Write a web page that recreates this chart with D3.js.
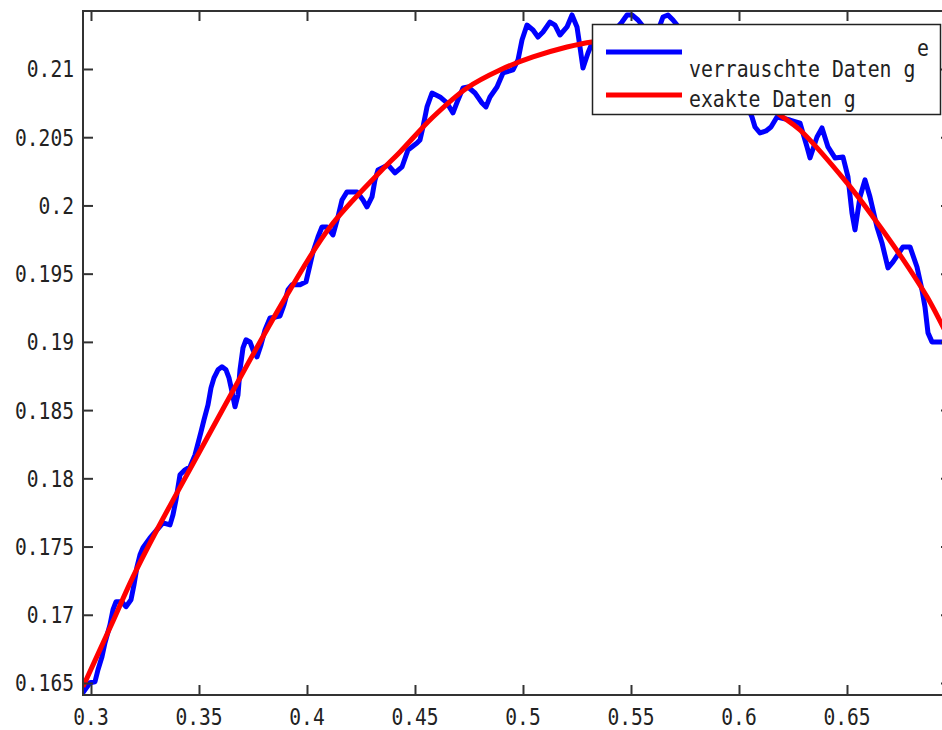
<!DOCTYPE html>
<html><head><meta charset="utf-8">
<script src="https://cdn.jsdelivr.net/npm/d3@7"></script>
<style>body{margin:0;background:#fff}svg{display:block}</style>
</head><body><svg id="c" width="942" height="730"></svg>
<script>
// ---- data ----
const noisyX = [0.2963,0.29954,0.30185,0.30324,0.30509,0.30648,0.3088,0.31019,0.31157,0.31435,
0.3162,0.31852,0.31991,0.3213,0.32269,0.32407,0.32731,0.33056,0.33333,0.33657,
0.33796,0.33935,0.3412,0.34352,0.34583,0.34815,0.35093,0.35231,0.35417,0.35556,
0.35694,0.3588,0.36065,0.3625,0.36389,0.36528,0.36667,0.36806,0.36898,0.37037,
0.37176,0.37361,0.375,0.37685,0.3787,0.38056,0.38287,0.38565,0.3875,0.38935,
0.3912,0.39306,0.39676,0.39954,0.40139,0.40278,0.40509,0.40694,0.40926,0.41204,
0.41435,0.4162,0.41852,0.42315,0.42593,0.42778,0.43009,0.43148,0.43287,0.4375,
0.44074,0.44398,0.44676,0.45093,0.45231,0.4537,0.45556,0.45787,0.46157,0.46481,
0.46759,0.46991,0.47222,0.47454,0.47778,0.48102,0.48287,0.48472,0.48796,0.49074,
0.49537,0.49769,0.49954,0.50185,0.50463,0.50694,0.50926,0.5125,0.51481,0.51713,
0.52037,0.52269,0.525,0.52639,0.52778,0.53009,0.53194,0.53565,0.53935,0.54259,
0.54583,0.54815,0.55046,0.55324,0.55509,0.55787,0.56065,0.56343,0.56481,0.56713,
0.56944,0.5713,0.575,0.57824,0.58194,0.58565,0.58935,0.59306,0.59676,0.60046,
0.60417,0.60602,0.60741,0.60972,0.6125,0.61481,0.61759,0.62361,0.62824,0.63148,
0.63287,0.63611,0.63843,0.6412,0.64444,0.64815,0.65046,0.65231,0.6537,0.65602,
0.65833,0.66065,0.66389,0.6662,0.66898,0.6713,0.67593,0.67917,0.68241,0.68472,
0.68611,0.6875,0.68935,0.69398,0.69815];
const noisyY = [0.16429,0.16502,0.16509,0.16597,0.16692,0.16795,0.16927,0.17037,0.17095,0.17095,
0.17059,0.1711,0.1722,0.17352,0.1744,0.17491,0.17564,0.17623,0.17674,0.17659,
0.17733,0.17843,0.18026,0.18062,0.18084,0.18172,0.18341,0.18429,0.18538,0.18663,
0.18736,0.18795,0.18817,0.18795,0.18736,0.18634,0.18524,0.18612,0.18795,0.18956,
0.19015,0.19,0.18941,0.1889,0.18978,0.19088,0.19176,0.19183,0.1919,0.19271,
0.19381,0.19418,0.19418,0.1944,0.19564,0.19659,0.19769,0.19842,0.19842,0.19784,
0.19916,0.2004,0.20099,0.20099,0.2004,0.19989,0.20062,0.20187,0.2026,0.20297,
0.20238,0.20282,0.20407,0.20458,0.2048,0.20575,0.20722,0.20824,0.20795,0.20751,
0.20678,0.20773,0.20861,0.20868,0.20824,0.20751,0.20722,0.20795,0.20868,0.20971,
0.20993,0.21066,0.21212,0.21322,0.21286,0.21234,0.21271,0.21344,0.21322,0.21249,
0.21308,0.21396,0.21308,0.21161,0.21007,0.21117,0.2119,0.21139,0.21212,0.21286,
0.21344,0.21396,0.21396,0.21359,0.21322,0.21212,0.21264,0.21322,0.21381,0.21396,
0.21359,0.21322,0.21176,0.21066,0.21103,0.20993,0.20846,0.20883,0.20934,0.2081,
0.20714,0.20648,0.20575,0.20531,0.20546,0.20575,0.20648,0.20626,0.20604,0.20429,
0.20348,0.20502,0.20568,0.20429,0.20348,0.20355,0.20209,0.19945,0.19821,0.20062,
0.20187,0.20062,0.19842,0.19725,0.19542,0.19586,0.19696,0.19696,0.19549,0.19381,
0.19256,0.19066,0.19,0.19,0.19];
const exactX = [0.2963,0.3088,0.31944,0.33056,0.35,0.37361,0.39213,0.41065,0.4338,0.44306,
0.45833,0.47407,0.48935,0.50463,0.52037,0.53194,0.54491,0.5588,0.57731,0.5912,
0.60509,0.61898,0.62824,0.65,0.66204,0.67454,0.68704,0.69398,0.69815];
const exactY = [0.16473,0.16905,0.17278,0.17623,0.18187,0.18868,0.19381,0.19842,0.20245,0.20392,
0.20648,0.20861,0.20993,0.21088,0.21161,0.21198,0.21212,0.21183,0.21103,0.20993,
0.20832,0.20663,0.20553,0.20165,0.19916,0.19637,0.1933,0.19125,0.19];
const xTicks = [0.3,0.35,0.4,0.45,0.5,0.55,0.6,0.65];
const xTickLabels = ["0.3","0.35","0.4","0.45","0.5","0.55","0.6","0.65"];
const yTicks = [0.165,0.17,0.175,0.18,0.185,0.19,0.195,0.2,0.205,0.21];
const yTickLabels = ["0.165","0.17","0.175","0.18","0.185","0.19","0.195","0.2","0.205","0.21"];
const seriesNames = ["verrauschte Daten g","exakte Daten g"];
const seriesSup = ["e",""];
const seriesColors = ["#0000ff","#ff0000"];

// ---- layout ----
const L = 83, R = 951, T = 11, B = 695;
const FONT = "'DejaVu Sans Mono', 'Liberation Mono', monospace";
const SY = 1.18;
const svg = d3.select("#c");
const x = d3.scaleLinear().domain([0.2963, 0.69815]).range([L, R]);
const y = d3.scaleLinear().domain([0.16412, 0.21425]).range([B, T]);

svg.append("defs").append("clipPath").attr("id","clip")
  .append("rect").attr("x",L).attr("y",T).attr("width",R-L).attr("height",B-T);

const noisy = noisyX.map((v,i)=>[v, noisyY[i]]);
const exact = exactX.map((v,i)=>[v, exactY[i]]);

const plot = svg.append("g").attr("clip-path","url(#clip)");
plot.append("path").datum(noisy)
  .attr("d", d3.line().x(d=>x(d[0])).y(d=>y(d[1])))
  .attr("fill","none").attr("stroke",seriesColors[0]).attr("stroke-width",5)
  .attr("stroke-linejoin","round").attr("stroke-linecap","round");
plot.append("path").datum(exact)
  .attr("d", d3.line().curve(d3.curveCatmullRom.alpha(0.5)).x(d=>x(d[0])).y(d=>y(d[1])))
  .attr("fill","none").attr("stroke",seriesColors[1]).attr("stroke-width",5)
  .attr("stroke-linejoin","round");

// axes (ticks inward on all sides)
const axCol = "#333";
function styleAxis(g){
  g.select(".domain").remove();
  g.selectAll(".tick line").attr("stroke",axCol).attr("stroke-width",2);
  g.selectAll(".tick text").remove();
}
svg.append("g").attr("transform",`translate(0,${B})`)
  .call(d3.axisBottom(x).tickValues(xTicks).tickSize(-10).tickFormat("")).call(styleAxis);
svg.append("g").attr("transform",`translate(0,${T})`)
  .call(d3.axisTop(x).tickValues(xTicks).tickSize(-10).tickFormat("")).call(styleAxis);
svg.append("g").attr("transform",`translate(${L},0)`)
  .call(d3.axisLeft(y).tickValues(yTicks).tickSize(-10).tickFormat("")).call(styleAxis);
svg.append("g").attr("transform",`translate(${R},0)`)
  .call(d3.axisRight(y).tickValues(yTicks).tickSize(-10).tickFormat("")).call(styleAxis);

svg.append("rect").attr("x",L).attr("y",T).attr("width",R-L).attr("height",B-T)
  .attr("fill","none").attr("stroke",axCol).attr("stroke-width",2);

// tick labels
svg.append("g").selectAll("g").data(xTicks).join("g")
  .attr("transform",d=>`translate(${x(d)},725)`)
  .append("text").attr("transform",`scale(1,${SY})`)
  .attr("text-anchor","middle").attr("font-family",FONT).attr("font-size",19.6).attr("fill","#222")
  .text((d,i)=>xTickLabels[i]);
svg.append("g").selectAll("g").data(yTicks).join("g")
  .attr("transform",d=>`translate(74,${y(d)+8.5})`)
  .append("text").attr("transform",`scale(1,${SY})`)
  .attr("text-anchor","end").attr("font-family",FONT).attr("font-size",19.6).attr("fill","#222")
  .text((d,i)=>yTickLabels[i]);

// legend
const lg = svg.append("g");
lg.append("rect").attr("x",592.5).attr("y",24.5).attr("width",348).attr("height",90)
  .attr("fill","#fff").attr("stroke","#222").attr("stroke-width",1.5);
const rowsLine = [52, 95], rowsText = [77, 107];
seriesNames.forEach((name,i)=>{
  lg.append("line").attr("x1",606).attr("x2",682).attr("y1",rowsLine[i]).attr("y2",rowsLine[i])
    .attr("stroke",seriesColors[i]).attr("stroke-width",5);
  const t = lg.append("g").attr("transform",`translate(689,${rowsText[i]})`)
    .append("text").attr("transform",`scale(1,${SY})`)
    .attr("font-family",FONT).attr("font-size",19.8).attr("fill","#222").text(name);
  if (seriesSup[i]) {
    lg.append("g").attr("transform",`translate(917,56)`)
      .append("text").attr("transform",`scale(1,${SY})`)
      .attr("font-family",FONT).attr("font-size",19.8).attr("fill","#222").text(seriesSup[i]);
  }
});
</script>
</body></html>
